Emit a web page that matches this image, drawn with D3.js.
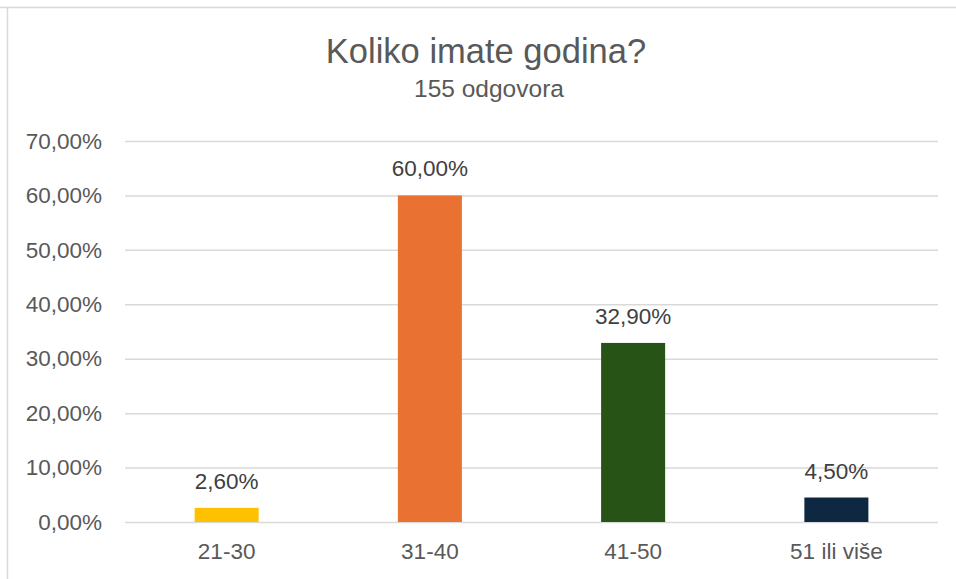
<!DOCTYPE html>
<html>
<head>
<meta charset="utf-8">
<script src="https://cdn.jsdelivr.net/npm/d3@7"></script>
<style>
  body { margin: 0; background: #fff; }
  svg { display: block; font-family: "Liberation Sans", Arial, sans-serif; }
</style>
</head>
<body>
<div id="chart"></div>
<script>
const categories = ['21-30', '31-40', '41-50', '51 ili više'];
const values = [2.6, 60.0, 32.9, 4.5];
const colors = ['#FFC000', '#E97132', '#275317', '#0E2841'];
const yTicks = [0, 10, 20, 30, 40, 50, 60, 70];
const title = 'Koliko imate godina?';
const subtitle = '155 odgovora';

const width = 956;
const height = 579;
const margin = {top: 141, right: 18, bottom: 57, left: 125};
const textColor = '#595959';

const fmt = v => v.toFixed(2).replace('.', ',') + '%';

const svg = d3.select('#chart')
  .append('svg')
  .attr('width', width)
  .attr('height', height);

// chart frame (partially visible)
svg.append('line')
  .attr('x1', 0).attr('x2', width)
  .attr('y1', 7.5).attr('y2', 7.5)
  .attr('stroke', '#d9d9d9').attr('stroke-width', 1.5);
svg.append('line')
  .attr('x1', 7.5).attr('x2', 7.5)
  .attr('y1', 7).attr('y2', height)
  .attr('stroke', '#d9d9d9').attr('stroke-width', 1.5);

svg.append('text')
  .attr('x', 486).attr('y', 63)
  .attr('text-anchor', 'middle')
  .attr('font-size', 34.5)
  .attr('fill', textColor)
  .text(title);

svg.append('text')
  .attr('x', 489).attr('y', 97)
  .attr('text-anchor', 'middle')
  .attr('font-size', 24.5)
  .attr('fill', textColor)
  .text(subtitle);

const xScale = d3.scaleBand()
  .domain(categories)
  .range([margin.left, width - margin.right])
  .paddingInner(0.685)
  .paddingOuter(0.3425);

const yScale = d3.scaleLinear()
  .domain([0, 70])
  .range([height - margin.bottom, margin.top]);

const yAxis = d3.axisLeft(yScale)
  .tickValues(yTicks)
  .tickSize(-(width - margin.right - margin.left))
  .tickPadding(23)
  .tickFormat(fmt);

const gy = svg.append('g')
  .attr('transform', `translate(${margin.left},0)`)
  .call(yAxis);
gy.select('.domain').remove();
gy.selectAll('line').attr('stroke', '#d9d9d9').attr('stroke-width', 1.5);
gy.selectAll('text')
  .attr('font-family', null)
  .attr('font-size', 22.5)
  .attr('fill', textColor);

const xAxis = d3.axisBottom(xScale).tickSize(0).tickPadding(21);
const gx = svg.append('g')
  .attr('transform', `translate(0,${height - margin.bottom})`)
  .call(xAxis);
gx.select('.domain').remove();
gx.attr('font-family', null);
gy.attr('font-family', null);
gx.selectAll('text')
  .attr('font-size', 22.5)
  .attr('fill', textColor);

svg.selectAll('rect.bar')
  .data(values)
  .enter()
  .append('rect')
  .attr('class', 'bar')
  .attr('x', (d, i) => xScale(categories[i]))
  .attr('y', d => yScale(d))
  .attr('width', xScale.bandwidth())
  .attr('height', d => yScale(0) - yScale(d))
  .attr('fill', (d, i) => colors[i]);

svg.selectAll('text.val')
  .data(values)
  .enter()
  .append('text')
  .attr('class', 'val')
  .attr('x', (d, i) => xScale(categories[i]) + xScale.bandwidth() / 2)
  .attr('y', d => yScale(d) - 19)
  .attr('text-anchor', 'middle')
  .attr('font-size', 22.5)
  .attr('fill', '#404040')
  .text(fmt);
</script>
</body>
</html>
